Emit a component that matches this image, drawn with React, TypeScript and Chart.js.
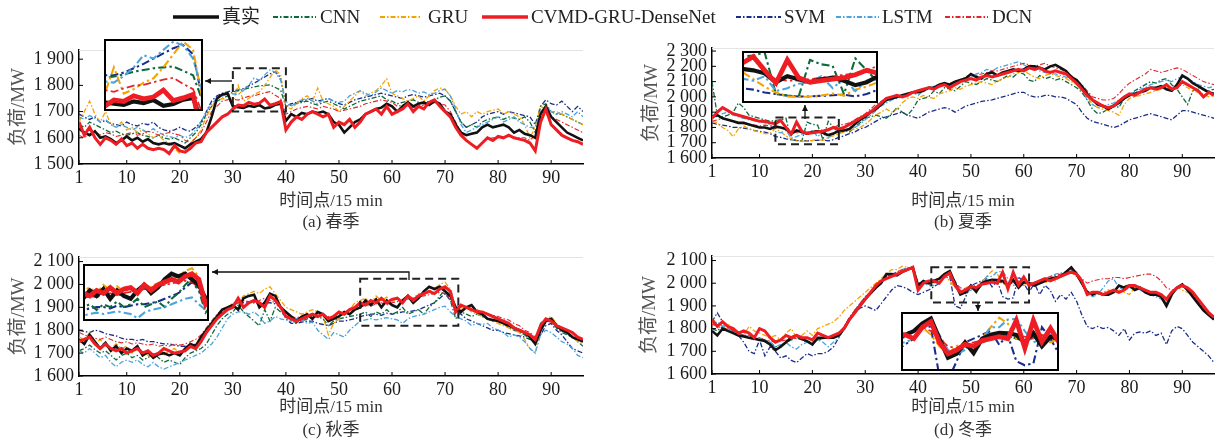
import React, { useEffect, useRef } from "react";
import { Chart, registerables } from "chart.js";
Chart.register(...registerables);

const FONT = '"Liberation Serif", "Times New Roman", "Noto Sans CJK SC", serif';

const SERIES = ["真实", "CNN", "GRU", "CVMD-GRU-DenseNet", "SVM", "LSTM", "DCN"];
const X_TICKS = [1, 10, 20, 30, 40, 50, 60, 70, 80, 90];
const Y_TICKS_A = [1500, 1600, 1700, 1800, 1900];
const Y_TICKS_B = [1600, 1700, 1800, 1900, 2000, 2100, 2200, 2300];
const Y_TICKS_C = [1600, 1700, 1800, 1900, 2000, 2100];
const Y_TICKS_D = [1600, 1700, 1800, 1900, 2000, 2100];
const CAPTIONS = ["(a) 春季", "(b) 夏季", "(c) 秋季", "(d) 冬季"];
const X_TITLE = "时间点/15 min";
const Y_TITLE = "负荷/MW";

// ---------- (a) spring ----------
const A_TRUE = [1635,1620,1610,1625,1600,1605,1595,1580,1590,1605,1590,1600,1585,1595,1580,1575,1580,1575,1580,1570,1560,1575,1585,1595,1620,1680,1750,1765,1770,1720,1717,1714,1722,1718,1725,1712,1716,1726,1730,1665,1690,1680,1695,1690,1700,1695,1700,1690,1660,1650,1620,1640,1660,1670,1690,1700,1710,1715,1730,1720,1700,1720,1735,1720,1730,1735,1725,1740,1730,1700,1690,1650,1620,1610,1615,1620,1640,1650,1640,1645,1650,1640,1620,1630,1615,1610,1600,1690,1720,1680,1660,1640,1620,1610,1600,1590];
const A_CNN = [1650,1640,1660,1650,1640,1630,1620,1625,1615,1610,1615,1620,1610,1605,1600,1610,1600,1595,1600,1590,1580,1600,1620,1650,1690,1720,1740,1750,1760,1775,1779,1784,1790,1794,1798,1800,1802,1792,1782,1720,1725,1730,1735,1740,1730,1725,1735,1740,1730,1720,1710,1720,1730,1740,1745,1750,1755,1760,1745,1740,1730,1735,1740,1745,1735,1730,1740,1745,1755,1760,1740,1700,1660,1640,1650,1640,1660,1670,1675,1680,1670,1680,1675,1670,1680,1660,1620,1720,1730,1700,1690,1690,1680,1670,1660,1650];
const A_GRU = [1660,1700,1740,1690,1660,1700,1650,1640,1660,1630,1640,1620,1630,1615,1600,1610,1590,1580,1560,1540,1560,1580,1600,1630,1680,1720,1740,1750,1745,1735,1800,1740,1750,1765,1775,1800,1830,1859,1840,1720,1710,1730,1750,1760,1740,1790,1740,1730,1720,1700,1720,1740,1760,1780,1760,1770,1780,1800,1825,1770,1760,1750,1740,1750,1760,1740,1760,1780,1790,1785,1760,1720,1690,1700,1680,1700,1690,1700,1705,1710,1690,1700,1690,1680,1650,1600,1640,1720,1710,1700,1700,1690,1680,1670,1660,1650];
const A_CVMD = [1660,1610,1640,1600,1575,1600,1590,1575,1595,1570,1580,1560,1575,1560,1555,1560,1555,1540,1570,1550,1545,1560,1580,1585,1620,1640,1660,1680,1690,1710,1725,1722,1735,1728,1732,1748,1724,1730,1738,1630,1660,1680,1670,1690,1700,1690,1680,1690,1640,1660,1650,1670,1640,1660,1690,1700,1710,1690,1720,1690,1700,1710,1730,1700,1720,1710,1735,1745,1720,1700,1680,1640,1610,1590,1575,1560,1580,1600,1590,1605,1600,1610,1600,1595,1590,1580,1550,1660,1710,1650,1630,1610,1600,1590,1585,1575];
const A_SVM = [1690,1680,1670,1680,1660,1665,1655,1650,1645,1660,1650,1645,1655,1650,1660,1640,1630,1625,1630,1640,1630,1625,1640,1660,1700,1740,1760,1770,1775,1782,1782,1788,1798,1808,1820,1832,1844,1851,1830,1720,1730,1735,1740,1745,1750,1740,1745,1750,1740,1730,1725,1735,1745,1750,1755,1760,1765,1770,1765,1760,1755,1750,1760,1765,1760,1755,1760,1765,1770,1760,1740,1700,1660,1640,1650,1660,1680,1690,1695,1700,1690,1700,1695,1690,1685,1680,1650,1720,1745,1730,1725,1740,1720,1700,1720,1700];
const A_LSTM = [1680,1670,1685,1675,1660,1670,1650,1640,1650,1640,1630,1640,1630,1620,1635,1620,1610,1605,1600,1610,1600,1610,1630,1660,1700,1730,1750,1760,1765,1768,1765,1780,1800,1828,1820,1840,1859,1850,1820,1740,1720,1735,1745,1750,1740,1730,1745,1750,1740,1735,1740,1760,1770,1780,1770,1760,1775,1790,1780,1770,1780,1775,1785,1780,1770,1775,1765,1770,1780,1785,1760,1710,1650,1620,1630,1640,1650,1660,1670,1680,1660,1670,1680,1660,1650,1640,1640,1700,1720,1700,1690,1700,1690,1680,1700,1680];
const A_DCN = [1610,1600,1615,1625,1610,1620,1615,1605,1610,1615,1620,1610,1615,1625,1620,1610,1615,1620,1615,1610,1590,1580,1600,1620,1660,1700,1720,1740,1745,1748,1744,1752,1758,1760,1766,1772,1776,1762,1750,1690,1700,1710,1715,1720,1715,1710,1720,1715,1710,1700,1705,1710,1715,1720,1730,1735,1740,1745,1740,1735,1720,1725,1730,1715,1720,1725,1730,1735,1730,1725,1700,1660,1620,1590,1570,1565,1580,1595,1600,1600,1600,1605,1600,1600,1600,1590,1610,1680,1690,1680,1670,1660,1650,1640,1630,1620];

// ---------- (b) summer ----------
const B_TRUE = [1870,1880,1860,1850,1840,1830,1830,1820,1810,1800,1800,1790,1805,1800,1790,1760,1780,1770,1760,1770,1775,1765,1750,1760,1780,1780,1790,1820,1850,1870,1900,1920,1950,1980,1990,2000,2010,2020,2030,2030,2040,2060,2060,2080,2090,2080,2100,2110,2120,2150,2130,2120,2150,2160,2140,2160,2170,2180,2170,2180,2200,2200,2190,2180,2200,2210,2190,2170,2130,2110,2070,2020,1980,1950,1940,1920,1940,1960,1990,2010,2020,2030,2040,2060,2060,2070,2050,2040,2080,2140,2120,2090,2070,2050,2030,2020];
const B_CNN = [2100,1880,1870,1880,1900,1960,1930,1880,1870,1860,1850,1840,1846,1850,1860,1720,1715,1712,1835,1820,1815,1720,1840,1800,1760,1780,1770,1800,1830,1860,1870,1880,1870,1860,1890,1930,1900,1880,1920,1980,1990,2000,2040,2020,2060,2050,2040,2070,2100,2090,2080,2100,2120,2110,2100,2120,2140,2130,2160,2150,2110,2100,2140,2120,2130,2110,2120,2100,2080,2060,2030,1980,1920,1890,1900,1920,1950,1930,1990,2010,2040,2060,2080,2100,2090,2110,2120,2080,2050,2000,1950,2040,2060,2050,2040,2050];
const B_GRU = [1840,1830,1800,1780,1740,1790,1810,1790,1780,1770,1760,1760,1795,1770,1745,1725,1712,1710,1712,1715,1722,1715,1735,1745,1760,1770,1780,1790,1800,1820,1850,1880,1900,1920,1900,1920,1960,1990,2000,1990,2010,2000,1990,2020,2030,2040,2060,2050,2070,2080,2090,2100,2090,2080,2100,2120,2130,2150,2160,2170,2150,2130,2120,2140,2150,2140,2130,2120,2100,2080,2050,2000,1950,1930,1920,1910,1900,1880,1950,1990,2000,2010,2020,2030,2040,2050,2060,2050,2070,2080,2060,2040,2030,2020,2000,2010];
const B_CVMD = [1860,1900,1930,1910,1890,1880,1870,1860,1850,1840,1840,1830,1824,1846,1800,1757,1835,1775,1760,1765,1770,1775,1785,1800,1790,1800,1820,1840,1860,1880,1900,1930,1960,1990,2000,2010,2000,2010,2030,2040,2050,2060,2050,2070,2080,2060,2080,2100,2110,2120,2110,2130,2140,2130,2140,2150,2160,2170,2180,2170,2190,2180,2190,2170,2160,2170,2160,2150,2120,2090,2050,2010,1980,1960,1940,1930,1940,1970,2000,2020,2010,2030,2050,2060,2050,2060,2080,2050,2060,2100,2080,2060,2040,2000,2030,2010];
const B_SVM = [1830,1820,1815,1810,1800,1800,1795,1790,1780,1775,1770,1760,1740,1735,1725,1720,1715,1712,1712,1714,1716,1718,1712,1720,1735,1745,1760,1770,1790,1800,1820,1840,1860,1870,1880,1890,1900,1880,1870,1860,1880,1900,1910,1920,1930,1920,1900,1920,1940,1950,1960,1970,1975,1980,1990,2000,2010,2020,2030,2030,2010,2000,2000,2010,2010,2000,2000,1990,1970,1950,1900,1860,1840,1830,1820,1810,1800,1810,1830,1850,1860,1870,1880,1890,1880,1870,1860,1850,1880,1910,1910,1900,1890,1880,1870,1860];
const B_LSTM = [1880,1870,1890,1900,1880,1870,1860,1850,1845,1840,1830,1820,1772,1765,1780,1730,1740,1755,1760,1780,1740,1772,1730,1765,1770,1780,1790,1800,1820,1850,1880,1910,1940,1960,1980,1990,2000,2010,2030,2010,2040,2060,2070,2080,2090,2070,2090,2100,2110,2130,2150,2160,2180,2170,2190,2200,2210,2220,2230,2210,2190,2180,2170,2160,2150,2150,2140,2130,2120,2100,2050,1980,1950,1930,1940,1950,1960,1980,2000,2020,2030,2050,2060,2080,2090,2100,2110,2100,2120,2130,2120,2100,2080,2070,2060,2070];
const B_DCN = [1840,1850,1860,1850,1840,1830,1825,1820,1815,1810,1815,1810,1810,1800,1790,1770,1765,1765,1770,1775,1780,1785,1790,1800,1815,1820,1830,1850,1870,1890,1920,1950,1970,1990,2000,2000,2010,2020,2030,2040,2040,2050,2060,2070,2080,2090,2100,2110,2130,2150,2140,2150,2160,2170,2170,2180,2190,2200,2210,2220,2210,2200,2210,2220,2200,2190,2180,2160,2140,2110,2080,2040,2000,1990,1980,1980,1990,2020,2060,2090,2110,2130,2150,2180,2170,2160,2170,2180,2190,2180,2160,2140,2120,2100,2090,2080];

// ---------- (c) autumn ----------
const C_TRUE = [1760,1740,1780,1750,1720,1745,1710,1730,1700,1720,1710,1730,1690,1705,1680,1695,1700,1690,1700,1690,1720,1740,1730,1770,1800,1830,1860,1890,1900,1910,1890,1940,1950,1955,1900,1920,1960,1950,1900,1880,1860,1840,1860,1870,1850,1880,1870,1840,1850,1860,1880,1870,1890,1900,1930,1910,1935,1900,1930,1910,1900,1930,1950,1920,1940,1970,1990,1980,1990,1970,1950,1900,1880,1900,1910,1880,1870,1850,1845,1840,1830,1820,1810,1800,1790,1770,1740,1800,1840,1850,1820,1800,1790,1770,1760,1750];
const C_CNN = [1710,1720,1735,1715,1700,1710,1690,1670,1690,1700,1680,1690,1670,1680,1700,1680,1660,1670,1660,1650,1680,1700,1710,1720,1740,1780,1820,1850,1870,1880,1910,1880,1860,1840,1820,1890,1840,1900,1880,1860,1840,1835,1840,1850,1855,1860,1850,1820,1840,1850,1855,1860,1865,1870,1880,1860,1880,1870,1890,1870,1880,1900,1870,1880,1890,1870,1900,1920,1950,1975,1930,1850,1880,1870,1860,1870,1860,1850,1840,1845,1830,1810,1800,1790,1780,1760,1750,1830,1850,1840,1810,1790,1780,1770,1750,1730];
const C_GRU = [1770,1760,1790,1740,1760,1730,1720,1740,1720,1730,1700,1720,1710,1690,1680,1700,1690,1710,1720,1700,1720,1730,1740,1760,1790,1820,1850,1880,1900,1920,1920,1950,1960,1970,1960,1980,1990,1960,1930,1900,1890,1880,1870,1880,1890,1880,1860,1780,1830,1850,1880,1890,1920,1930,1940,1920,1950,1930,1945,1925,1940,1930,1950,1940,1960,1950,1970,1980,2000,2010,1980,1900,1890,1900,1880,1870,1860,1850,1840,1830,1820,1810,1800,1790,1760,1720,1700,1810,1850,1860,1830,1810,1790,1770,1750,1740];
const C_CVMD = [1750,1760,1770,1740,1720,1740,1720,1710,1720,1700,1710,1720,1700,1710,1690,1700,1720,1710,1700,1705,1710,1730,1720,1750,1790,1820,1850,1870,1890,1900,1940,1900,1920,1930,1920,1900,1950,1930,1900,1860,1850,1840,1850,1860,1870,1860,1870,1850,1860,1880,1870,1890,1900,1920,1910,1930,1920,1940,1920,1935,1940,1920,1950,1930,1950,1960,1970,1960,1980,1990,1970,1880,1910,1900,1890,1880,1880,1870,1860,1850,1840,1830,1810,1800,1790,1780,1760,1820,1850,1840,1820,1810,1800,1790,1770,1760];
const C_SVM = [1800,1795,1790,1800,1795,1785,1780,1775,1765,1760,1760,1755,1760,1750,1750,1745,1740,1740,1735,1730,1730,1730,1740,1760,1790,1820,1860,1880,1900,1910,1920,1920,1925,1920,1920,1920,1920,1915,1900,1850,1830,1830,1835,1840,1840,1830,1825,1820,1830,1840,1840,1845,1850,1860,1865,1870,1870,1865,1875,1870,1875,1880,1880,1885,1890,1900,1910,1920,1940,1960,1930,1890,1870,1850,1840,1830,1820,1810,1800,1800,1790,1785,1780,1775,1770,1760,1750,1780,1820,1830,1800,1780,1750,1720,1710,1700];
const C_LSTM = [1710,1700,1720,1700,1680,1690,1660,1640,1660,1670,1660,1670,1650,1640,1660,1640,1630,1640,1650,1660,1670,1680,1690,1700,1720,1740,1770,1810,1850,1870,1880,1880,1870,1880,1860,1830,1840,1860,1850,1845,1840,1850,1845,1830,1835,1800,1780,1760,1790,1780,1770,1800,1820,1840,1845,1850,1845,1850,1855,1850,1845,1830,1850,1860,1865,1870,1880,1890,1900,1905,1880,1860,1850,1840,1820,1830,1825,1830,1810,1800,1790,1770,1780,1770,1750,1720,1700,1780,1800,1790,1770,1750,1740,1720,1690,1680];
const C_DCN = [1790,1780,1770,1765,1760,1770,1760,1750,1745,1750,1740,1745,1740,1735,1740,1730,1735,1730,1740,1735,1740,1750,1760,1780,1810,1840,1870,1890,1900,1910,1920,1930,1925,1920,1930,1940,1930,1920,1910,1870,1860,1855,1860,1865,1870,1860,1865,1860,1855,1860,1870,1880,1890,1900,1910,1905,1915,1920,1910,1920,1925,1930,1935,1940,1945,1950,1955,1960,1965,1960,1940,1910,1900,1905,1895,1890,1880,1870,1865,1860,1850,1845,1830,1820,1800,1790,1770,1810,1840,1835,1820,1810,1800,1790,1770,1755];

// ---------- (d) winter ----------
const D_TRUE = [1790,1770,1800,1790,1780,1770,1765,1760,1755,1750,1745,1730,1705,1720,1740,1760,1770,1755,1745,1730,1760,1760,1760,1760,1770,1800,1840,1870,1900,1930,1955,1980,2000,2040,2040,2035,2050,2060,2070,1990,2010,2000,2010,2020,2040,2053,2000,1950,1960,1990,1962,2000,2010,2015,2014,2010,1990,2015,1980,2005,2000,1990,2000,2010,2020,2025,2030,2050,2070,2040,2000,1960,1950,1960,1950,1950,1960,1990,1980,1990,1970,1980,1960,1950,1950,1940,1900,1950,1980,1995,1970,1940,1910,1880,1860,1840];
const D_CNN = [1800,1790,1810,1800,1790,1780,1770,1765,1760,1755,1750,1740,1720,1725,1740,1750,1760,1750,1740,1735,1750,1755,1760,1760,1770,1800,1840,1880,1910,1940,1960,1980,2000,2030,2040,2040,2050,2060,2065,2000,2000,1995,2005,2020,2030,2040,2000,1960,1955,1980,1965,1990,2000,2005,2010,2000,1995,2005,1985,2000,2000,1995,2000,2010,2020,2025,2035,2045,2060,2040,2000,1965,1955,1960,1955,1955,1965,1985,1985,1995,1980,1985,1965,1955,1950,1945,1910,1955,1980,1990,1970,1945,1915,1885,1860,1840];
const D_GRU = [1830,1820,1810,1820,1800,1780,1770,1810,1790,1780,1770,1760,1770,1750,1780,1800,1760,1770,1790,1770,1800,1810,1820,1830,1850,1880,1900,1920,1940,1960,1980,2000,2020,2040,2060,2060,2075,2070,2060,1980,2000,2010,2000,2020,2030,2010,1980,1960,1980,1990,1980,2000,2030,2055,2040,2000,1990,2010,2000,1990,2000,1990,2010,2000,2020,2010,2030,2040,2045,2030,2000,1960,1960,1950,1960,1970,1960,1970,1960,1950,1980,1970,1960,1950,1950,1940,1920,1960,1980,1970,1960,1950,1920,1890,1860,1840];
const D_CVMD = [1840,1810,1830,1810,1800,1780,1790,1780,1760,1800,1790,1760,1740,1750,1770,1760,1770,1760,1760,1750,1780,1770,1760,1770,1780,1800,1840,1870,1900,1930,1960,1990,2010,2020,2030,2040,2050,2060,2070,1970,2000,2010,2010,2000,2030,2045,1990,1960,1970,1985,1980,1995,2000,2005,2000,2048,1975,2048,1992,2027,1990,2000,2010,2020,2010,2020,2030,2040,2050,2040,2010,1950,1960,1960,1950,1960,1970,1960,1970,1990,1990,1980,1970,1960,1960,1950,1930,1960,1980,1990,1980,1960,1930,1900,1870,1850];
const D_SVM = [1830,1870,1830,1810,1790,1770,1740,1700,1690,1750,1680,1720,1700,1670,1680,1660,1650,1670,1690,1680,1690,1690,1700,1720,1760,1800,1840,1870,1890,1900,1890,1880,1910,1940,1970,1990,1985,1975,1960,1950,1960,1970,1985,2000,2040,2030,1900,1890,1940,1990,2000,2010,2020,1984,2010,1941,1930,1935,2030,2000,1960,2000,1950,1990,1970,1920,1950,1930,1960,1920,1860,1810,1800,1810,1800,1805,1790,1770,1800,1750,1780,1785,1780,1790,1770,1780,1730,1790,1810,1800,1770,1740,1720,1700,1680,1650];
const D_LSTM = [1820,1830,1810,1800,1790,1780,1770,1760,1750,1760,1750,1740,1720,1730,1740,1720,1710,1730,1740,1730,1750,1740,1720,1740,1760,1800,1840,1880,1910,1940,1960,1990,2010,2030,2040,2050,2060,2070,2060,1990,2000,1990,1990,2000,2030,2040,2010,1970,1960,1970,1980,2000,2030,2030,2050,2052,2020,1990,2000,2010,1990,2000,2010,2020,2030,2040,2045,2050,2060,2050,2000,1960,1940,1950,1980,2010,2020,1980,1970,1980,1980,1970,1960,1950,1940,1930,1910,1960,1980,1990,1970,1940,1910,1880,1860,1850];
const D_DCN = [1820,1810,1800,1800,1790,1780,1770,1770,1760,1760,1750,1745,1740,1745,1750,1760,1755,1750,1745,1740,1750,1755,1760,1765,1780,1810,1850,1880,1910,1940,1960,1990,2010,2030,2040,2050,2060,2065,2060,2000,2005,2010,2015,2020,2030,2020,2000,1980,1975,1985,1990,1995,2000,2005,2000,2010,2005,2000,2010,2005,2000,2005,2010,2020,2030,2035,2040,2045,2050,2045,2020,2000,2010,2015,2020,2020,2025,2025,2020,2025,2030,2035,2040,2040,2030,2010,1980,1970,1975,1985,1975,1950,1920,1890,1865,1845];

const PANEL_DATA = [
  [A_TRUE, A_CNN, A_GRU, A_CVMD, A_SVM, A_LSTM, A_DCN],
  [B_TRUE, B_CNN, B_GRU, B_CVMD, B_SVM, B_LSTM, B_DCN],
  [C_TRUE, C_CNN, C_GRU, C_CVMD, C_SVM, C_LSTM, C_DCN],
  [D_TRUE, D_CNN, D_GRU, D_CVMD, D_SVM, D_LSTM, D_DCN],
];
const PANEL_YTICKS = [Y_TICKS_A, Y_TICKS_B, Y_TICKS_C, Y_TICKS_D];

// ---------- styles & layout ----------
const DD = [5, 2, 1.5, 2];
const STYLES = [
  { color: "#111111", width: 2.6, dash: [] as number[], order: 1 },
  { color: "#0b6b3a", width: 1.3, dash: DD, order: 5 },
  { color: "#f5a300", width: 1.3, dash: DD, order: 4 },
  { color: "#ee1d23", width: 3, dash: [] as number[], order: 0 },
  { color: "#1b2d8a", width: 1.3, dash: DD, order: 6 },
  { color: "#4aa3df", width: 1.3, dash: DD, order: 3 },
  { color: "#e0262b", width: 1.1, dash: DD, order: 2 },
];

type Rect = { l: number; t: number; r: number; b: number };
type Layout = {
  canvas: Rect; plot: Rect; yMin: number; yMax: number; titlePad: number; lh: number;
  box: { x0: number; x1: number; y0: number; y1: number }; inset: Rect; arrow: number[][];
};
const LAYOUTS: Layout[] = [
  { canvas: { l: 0, t: 30, r: 600, b: 233 }, plot: { l: 79, t: 50, r: 583, b: 164 }, yMin: 1500, yMax: 1935, titlePad: 8.5, lh: 21,
    box: { x0: 30, x1: 40, y0: 1700, y1: 1865 }, inset: { l: 104, t: 39, r: 203, b: 111 }, arrow: [[232, 81], [205, 81]] },
  { canvas: { l: 630, t: 30, r: 1217, b: 233 }, plot: { l: 712, t: 48, r: 1214, b: 158 }, yMin: 1600, yMax: 2320, titlePad: 11.5, lh: 21,
    box: { x0: 13, x1: 25, y0: 1690, y1: 1865 }, inset: { l: 742, t: 51, r: 878, b: 103 }, arrow: [[805, 119], [805, 105]] },
  { canvas: { l: 0, t: 240, r: 600, b: 442 }, plot: { l: 79, t: 257, r: 583, b: 376 }, yMin: 1600, yMax: 2120, titlePad: 8.5, lh: 23,
    box: { x0: 54, x1: 72.5, y0: 1820, y1: 2025 }, inset: { l: 83, t: 264, r: 209, b: 321 }, arrow: [[409, 280], [409, 272], [212, 272]] },
  { canvas: { l: 630, t: 240, r: 1217, b: 442 }, plot: { l: 712, t: 256, r: 1214, b: 374 }, yMin: 1600, yMax: 2120, titlePad: 9.5, lh: 23,
    box: { x0: 42.5, x1: 61, y0: 1915, y1: 2070 }, inset: { l: 901, t: 312, r: 1059, b: 371 }, arrow: [[978, 303], [978, 311]] },
];

const LEGEND_POS = [[173, 219, 222], [273, 316, 320], [380, 420, 428], [482, 528, 531], [736, 781, 784], [836, 879, 882], [945, 988, 992]];

function fmtY(v: number) {
  const s = String(Math.round(v));
  return s.length === 4 ? s[0] + " " + s.slice(1) : s;
}

function makeDatasets(idx: number, scale: number) {
  return PANEL_DATA[idx].map((vals, k) => ({
    label: SERIES[k],
    data: vals.map((v, i) => ({ x: i + 1, y: v })),
    borderColor: STYLES[k].color,
    borderWidth: STYLES[k].width * scale,
    borderDash: STYLES[k].dash.map((d) => d * scale),
    pointRadius: 0,
    tension: 0,
    fill: false,
    order: STYLES[k].order,
  }));
}

function MainChart({ idx }: { idx: number }) {
  const ref = useRef<HTMLCanvasElement>(null);
  const L = LAYOUTS[idx];
  const w = L.canvas.r - L.canvas.l;
  const h = L.canvas.b - L.canvas.t;
  useEffect(() => {
    const yTicks = PANEL_YTICKS[idx];
    const decor = {
      id: "decor" + idx,
      afterDatasetsDraw(chart: any) {
        const { ctx, chartArea: a, scales } = chart;
        const x = scales.x, y = scales.y;
        ctx.save();
        ctx.strokeStyle = "#e4e4e4";
        ctx.lineWidth = 1;
        ctx.beginPath();
        ctx.moveTo(a.left, a.top + 0.5);
        ctx.lineTo(a.right, a.top + 0.5);
        ctx.stroke();
        ctx.strokeStyle = "#000";
        ctx.beginPath();
        for (const v of yTicks) {
          const py = y.getPixelForValue(v);
          ctx.moveTo(a.left, py);
          ctx.lineTo(a.left + 4, py);
        }
        for (const v of X_TICKS) {
          const px = x.getPixelForValue(v);
          ctx.moveTo(px, a.bottom);
          ctx.lineTo(px, a.bottom - 4);
        }
        ctx.stroke();
        // dashed zoom box
        const bx0 = x.getPixelForValue(L.box.x0), bx1 = x.getPixelForValue(L.box.x1);
        const by0 = y.getPixelForValue(L.box.y0), by1 = y.getPixelForValue(L.box.y1);
        ctx.setLineDash([8, 5]);
        ctx.lineWidth = 2;
        ctx.strokeStyle = "#222";
        ctx.strokeRect(bx0, by1, bx1 - bx0, by0 - by1);
        ctx.setLineDash([]);
        // arrow
        const pts = L.arrow.map(([px, py]) => [px - L.canvas.l, py - L.canvas.t]);
        ctx.lineWidth = 1.3;
        ctx.strokeStyle = "#111";
        ctx.beginPath();
        ctx.moveTo(pts[0][0], pts[0][1]);
        for (let i = 1; i < pts.length; i++) ctx.lineTo(pts[i][0], pts[i][1]);
        ctx.stroke();
        const [ex, ey] = pts[pts.length - 1];
        const [sx, sy] = pts[pts.length - 2];
        const ang = Math.atan2(ey - sy, ex - sx);
        ctx.fillStyle = "#111";
        ctx.beginPath();
        ctx.moveTo(ex, ey);
        ctx.lineTo(ex - 6 * Math.cos(ang) + 3 * Math.sin(ang), ey - 6 * Math.sin(ang) - 3 * Math.cos(ang));
        ctx.lineTo(ex - 6 * Math.cos(ang) - 3 * Math.sin(ang), ey - 6 * Math.sin(ang) + 3 * Math.cos(ang));
        ctx.closePath();
        ctx.fill();
        ctx.restore();
      },
    };
    const chart = new Chart(ref.current as HTMLCanvasElement, {
      type: "line",
      data: { datasets: makeDatasets(idx, 1) as any },
      options: {
        animation: false,
        responsive: false,
        maintainAspectRatio: false,
        devicePixelRatio: 1,
        layout: { padding: { top: L.plot.t - L.canvas.t, right: L.canvas.r - L.plot.r, left: 0, bottom: 0 } },
        plugins: { legend: { display: false }, tooltip: { enabled: false } },
        scales: {
          x: {
            type: "linear",
            min: 1,
            max: 96,
            grid: { display: false, drawTicks: false },
            border: { display: true, color: "#000", width: 1.5 },
            afterBuildTicks: (s: any) => { s.ticks = X_TICKS.map((v) => ({ value: v })); },
            afterFit: (s: any) => { s.height = L.canvas.b - L.plot.b; },
            ticks: { autoSkip: false, maxRotation: 0, padding: 3, color: "#1a1a1a", font: { family: FONT, size: 18 }, callback: (v: any) => String(v) },
            title: { display: true, text: [X_TITLE, CAPTIONS[idx]], color: "#333", font: { family: FONT, size: 17, lineHeight: L.lh + "px" }, padding: { top: 0, bottom: 0 } },
          },
          y: {
            type: "linear",
            min: L.yMin,
            max: L.yMax,
            grid: { display: false, drawTicks: false },
            border: { display: true, color: "#000", width: 1.5 },
            afterBuildTicks: (s: any) => { s.ticks = yTicks.map((v) => ({ value: v })); },
            afterFit: (s: any) => { s.width = L.plot.l - L.canvas.l; },
            ticks: { autoSkip: false, padding: 5, color: "#1a1a1a", font: { family: FONT, size: 18 }, callback: (v: any) => fmtY(Number(v)) },
            title: { display: true, text: Y_TITLE, color: "#555", font: { family: FONT, size: 19, lineHeight: "21px" }, padding: { top: L.titlePad, bottom: 0 } },
          },
        },
      } as any,
      plugins: [decor],
    });
    return () => chart.destroy();
  }, []);
  return (
    <canvas ref={ref} width={w} height={h}
      style={{ position: "absolute", left: L.canvas.l, top: L.canvas.t, width: w, height: h }} />
  );
}

function InsetChart({ idx }: { idx: number }) {
  const ref = useRef<HTMLCanvasElement>(null);
  const L = LAYOUTS[idx];
  const w = L.inset.r - L.inset.l;
  const h = L.inset.b - L.inset.t;
  useEffect(() => {
    const frame = {
      id: "frame" + idx,
      afterDraw(chart: any) {
        const ctx = chart.ctx;
        ctx.save();
        ctx.strokeStyle = "#000";
        ctx.lineWidth = 2;
        ctx.strokeRect(1, 1, chart.width - 2, chart.height - 2);
        ctx.restore();
      },
    };
    const chart = new Chart(ref.current as HTMLCanvasElement, {
      type: "line",
      data: { datasets: makeDatasets(idx, 1.6) as any },
      options: {
        animation: false,
        responsive: false,
        maintainAspectRatio: false,
        devicePixelRatio: 1,
        layout: { padding: 0 },
        plugins: { legend: { display: false }, tooltip: { enabled: false } },
        scales: {
          x: { type: "linear", display: false, min: L.box.x0, max: L.box.x1 },
          y: { type: "linear", display: false, min: L.box.y0, max: L.box.y1 },
        },
      } as any,
      plugins: [frame],
    });
    return () => chart.destroy();
  }, []);
  return (
    <canvas ref={ref} width={w} height={h}
      style={{ position: "absolute", left: L.inset.l, top: L.inset.t, width: w, height: h, background: "#fff" }} />
  );
}

function Legend() {
  return (
    <>
      <svg width={1217} height={34} style={{ position: "absolute", left: 0, top: 0 }}>
        {SERIES.map((name, k) => {
          const [x1, x2] = LEGEND_POS[k];
          const solid = STYLES[k].dash.length === 0;
          return (
            <line key={name} x1={x1} x2={x2} y1={17} y2={17} stroke={STYLES[k].color}
              strokeWidth={solid ? 3.6 : 2.2}
              strokeDasharray={solid ? undefined : "5 2 1.5 2"} />
          );
        })}
      </svg>
      {SERIES.map((name, k) => (
        <span key={name} style={{ position: "absolute", left: LEGEND_POS[k][2], top: 6, fontFamily: FONT, fontSize: 19, lineHeight: "22px", color: "#222", whiteSpace: "nowrap" }}>
          {name}
        </span>
      ))}
    </>
  );
}

export default function App() {
  return (
    <div style={{ position: "absolute", left: 0, top: 0, width: 1217, height: 439, overflow: "hidden", background: "#fff" }}>
      {[0, 1, 2, 3].map((i) => <MainChart key={"m" + i} idx={i} />)}
      {[0, 1, 2, 3].map((i) => <InsetChart key={"i" + i} idx={i} />)}
      <Legend />
    </div>
  );
}
